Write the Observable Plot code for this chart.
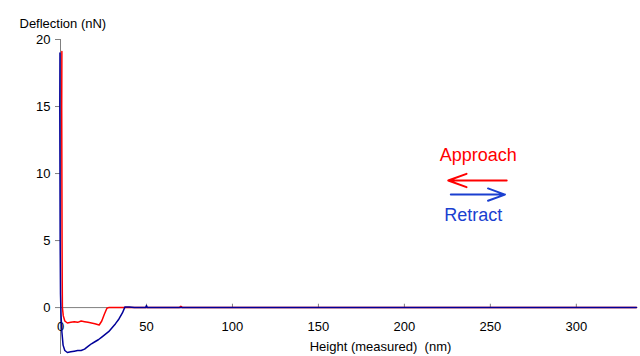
<!DOCTYPE html>
<html><head><meta charset="utf-8">
<script src="https://cdn.jsdelivr.net/npm/d3@7"></script>
<script src="https://cdn.jsdelivr.net/npm/@observablehq/plot@0.6"></script>
<style>body{margin:0;background:#fff;font-family:"Liberation Sans",Arial,sans-serif}</style>
</head><body><div id="chart"></div>
<script>
const approachX = [0.8,0.7,0.8,0.9,1.0,1.1,1.6,2.5,4,6,8,10,12,14,16,18,20,22.5,24,25.5,27,28,40,69,70,71,100,150,200,250,300,335];
const approachY = [19.1,15,10,5,2,0,-0.6,-1.0,-1.15,-1.1,-1.05,-1.1,-1.0,-1.05,-1.1,-1.15,-1.2,-1.3,-1.0,-0.5,-0.05,0,0,0,0.1,0,0,0,0,0,0,0];
const retractX = [-0.3,-0.4,-0.3,-0.2,0,0.3,0.8,1.5,2.5,4,6,8,10,12,14,16,18,20,22,24,26,28,30,32,34,36,37.5,40,43,49.5,50,50.5,100,150,200,250,300,335];
const retractY = [19,15,10,5,1,-0.5,-1.8,-2.8,-3.2,-3.35,-3.3,-3.25,-3.2,-3.2,-3.1,-2.9,-2.7,-2.55,-2.4,-2.2,-2.0,-1.8,-1.5,-1.2,-0.85,-0.4,0.05,0.05,0,0,0.15,0,0,0,0,0,0,0];
const xTicks = [0,50,100,150,200,250,300];
const yTicks = [0,5,10,15,20];
const approach = approachX.map((x,i)=>({x, y: approachY[i]}));
const retract = retractX.map((x,i)=>({x, y: retractY[i]}));
const arrows = [
  {x1: 259.5, x2: 225.5, y: 9.48, c: "#ff0000"},
  {x1: 227, x2: 258.5, y: 8.43, c: "#1a3fd0"}
];
const labels = [
  {x: 243, y: 11.4, t: "Approach", c: "#ff0000"},
  {x: 240, y: 6.9, t: "Retract", c: "#1a3fd0"}
];
const chart = Plot.plot({
  width: 640, height: 356,
  marginLeft: 60, marginRight: 4, marginTop: 39, marginBottom: 2,
  style: {fontFamily: "'Liberation Sans', Arial, sans-serif", fontSize: "13px", color: "#000", background: "#fff"},
  x: {domain: [0, 335], axis: null},
  y: {domain: [-3.5, 20], label: null},
  marks: [
    Plot.axisY(yTicks, {tickSize: 5, tickPadding: 5, stroke: "#808080", fontSize: 13, color: "#000", label: null}),
    Plot.ruleX([0], {stroke: "#808080", y1: -3.5, y2: 20}),
    Plot.ruleY([0], {stroke: "#808080"}),
    Plot.ruleX(xTicks, {x: d=>d, y1: 0, y2: 0.25, stroke: "#808080"}),
    Plot.text(xTicks, {x: d=>d, y: 0, dy: 19, text: d=>String(d), fontSize: 13, fill: "#000"}),
    Plot.line(approach, {x: "x", y: "y", stroke: "#ff0000", strokeWidth: 1.5}),
    Plot.line(retract, {x: "x", y: "y", stroke: "#000099", strokeWidth: 1.5}),
    Plot.arrow(arrows, {x1: "x1", x2: "x2", y1: "y", y2: "y", stroke: "c", strokeWidth: 2, headLength: 15, headAngle: 40}),
    Plot.text(labels, {x: "x", y: "y", text: "t", fill: "c", fontSize: 18}),
    Plot.text(["Height (measured)  (nm)"], {frameAnchor: "bottom", dx: 32, dy: -4, lineAnchor: "bottom", fontSize: 13, fill: "#000"}),
    Plot.text(["Deflection (nN)"], {frameAnchor: "top-left", dx: -41, dy: -21, textAnchor: "start", fontSize: 13, fill: "#000"})
  ]
});
document.getElementById("chart").appendChild(chart);
</script></body></html>
